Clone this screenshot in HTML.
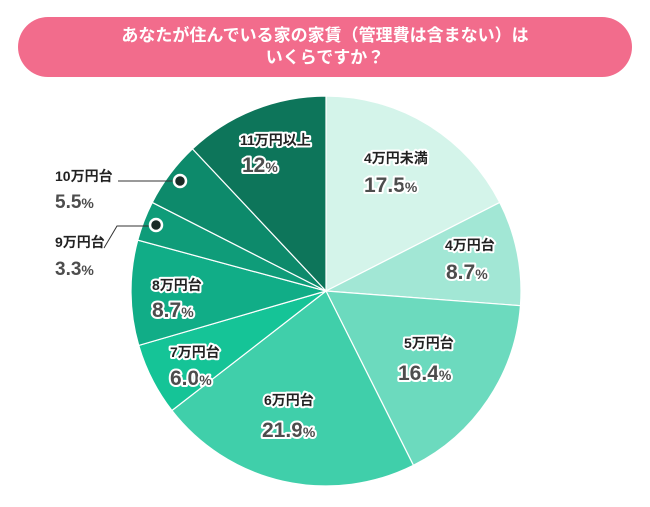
<!DOCTYPE html>
<html><head><meta charset="utf-8"><style>
body{margin:0;background:#fff;width:650px;height:507px;overflow:hidden;font-family:"Liberation Sans","Noto Sans CJK JP",sans-serif}
.t{position:absolute;left:18px;top:17px;width:614px;height:60px;border-radius:30px;background:#f26c8c;color:#fff;font-weight:bold;font-size:17px;line-height:22px;text-align:center;display:flex;align-items:center;justify-content:center}
svg{position:absolute;left:0;top:0}
text{font-family:"Liberation Sans","Noto Sans CJK JP",sans-serif;font-weight:bold;paint-order:stroke;stroke:#fff;stroke-width:4px;stroke-linejoin:round}
.c{font-size:14px;fill:#222}
.p{font-size:21px;fill:#4d4d4d}
.p tspan{font-size:14px}
.o{stroke:none}
</style></head><body>
<div class="t">あなたが住んでいる家の家賃（管理費は含まない）は<br>いくらですか？</div>
<svg width="650" height="507" id="s">
<g id="pie"></g>
<line x1="118" y1="181" x2="178" y2="181" stroke="#333" stroke-width="1"/>
<polyline points="104,248 117,226 152,226" fill="none" stroke="#333" stroke-width="1"/>
<circle cx="180" cy="181" r="6" fill="#1a2b26" stroke="#fff" stroke-width="2.5"/>
<circle cx="156" cy="225" r="6" fill="#1a2b26" stroke="#fff" stroke-width="2.5"/>
<text class="c" x="364" y="163">4万円未満</text>
<text class="p" x="364" y="192">17.5<tspan>%</tspan></text>
<text class="c" x="445" y="250">4万円台</text>
<text class="p" x="446" y="279">8.7<tspan>%</tspan></text>
<text class="c" x="404" y="348">5万円台</text>
<text class="p" x="398" y="380">16.4<tspan>%</tspan></text>
<text class="c" x="264" y="405">6万円台</text>
<text class="p" x="262" y="437">21.9<tspan>%</tspan></text>
<text class="c" x="170" y="357">7万円台</text>
<text class="p" x="170" y="385">6.0<tspan>%</tspan></text>
<text class="c" x="152" y="290">8万円台</text>
<text class="p" x="152" y="317">8.7<tspan>%</tspan></text>
<text class="c" x="240" y="145">11万円以上</text>
<text class="p" x="242" y="172">12<tspan>%</tspan></text>
<text class="c o" x="55" y="181">10万円台</text>
<text class="p o" x="55" y="208" style="font-size:19px">5.5<tspan>%</tspan></text>
<text class="c o" x="55" y="247">9万円台</text>
<text class="p o" x="55" y="275" style="font-size:19px">3.3<tspan>%</tspan></text>
</svg>
<script>
var d=[[17.5,"#d4f4ea"],[8.7,"#a2e7d5"],[16.4,"#6cdabe"],[21.9,"#40cfaa"],[6.0,"#15c497"],[8.7,"#11ad87"],[3.3,"#0f9c79"],[5.5,"#0d8a6b"],[12,"#0d755a"]];
var cx=326,cy=291,r=195,a=0,g=document.getElementById("pie"),s="";
d.forEach(function(e){var b=a+e[0]/100*2*Math.PI;
var x1=cx+r*Math.sin(a),y1=cy-r*Math.cos(a),x2=cx+r*Math.sin(b),y2=cy-r*Math.cos(b);
s+='<path d="M'+cx+','+cy+'L'+x1+','+y1+'A'+r+','+r+' 0 '+(b-a>Math.PI?1:0)+' 1 '+x2+','+y2+'Z" fill="'+e[1]+'" stroke="#fff" stroke-width="1.2"/>';a=b;});
g.innerHTML=s;
</script>
</body></html>
